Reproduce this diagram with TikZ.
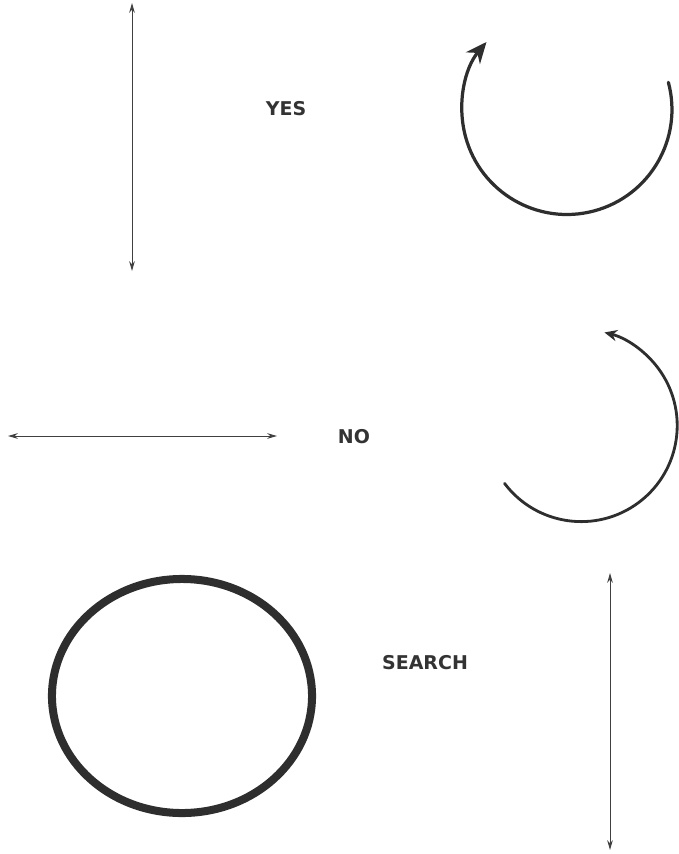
\documentclass[tikz,border=0pt]{standalone}
\usepackage{fontspec}
\setmainfont{Liberation Sans}
\newfontfamily\heavy{DejaVu Sans}
\usetikzlibrary{arrows.meta,shapes.geometric,positioning}

\begin{document}
\begin{tikzpicture}[
    x=0.025cm, y=-0.025cm,
    word/.style={font=\heavy\bfseries\fontsize{13.5}{15}\selectfont, text=black!80},
    twoway/.style={{Stealth[length=7pt,width=4pt]}-{Stealth[length=7pt,width=4pt]}, line width=0.7pt, draw=black!75},
    turn/.style={draw=black!82, line cap=round}
]
    \useasboundingbox (0,0) rectangle (678,854);

    % top row
    \coordinate (yesTop) at (132,3);
    \coordinate (yesBot) at (132,271);
    \draw[twoway] (yesTop) -- (yesBot);
    \node[word] (yes) at (286,109) {YES};
    \coordinate (hubA) at (565,110);
    \draw[turn, line width=2.3pt, -{Stealth[length=15pt,width=13pt]}] (hubA) ++(-15:107) arc[start angle=-15, end angle=220, radius=105];

    % middle row
    \coordinate (noLeft) at (8,436);
    \coordinate (noRight) at (277,436);
    \draw[twoway] (noLeft) -- (noRight);
    \node[word] (no) at (354,437) {NO};
    \coordinate (hubB) at (582,425);
    \draw[turn, line width=2pt, -{Stealth[length=9pt,width=8pt]}] (hubB) ++(143:97) arc[start angle=143, end angle=-76, radius=96];

    % bottom row
    \node[draw=black!82, line width=5.7pt, ellipse, inner sep=0pt, minimum width=6.5cm, minimum height=5.85cm] (ring) at (182,696) {};
    \node[word] (search) at (425,663) {SEARCH};
    \coordinate (srchTop) at (610,573);
    \coordinate (srchBot) at (610,850);
    \draw[twoway] (srchTop) -- (srchBot);
\end{tikzpicture}
\end{document}
